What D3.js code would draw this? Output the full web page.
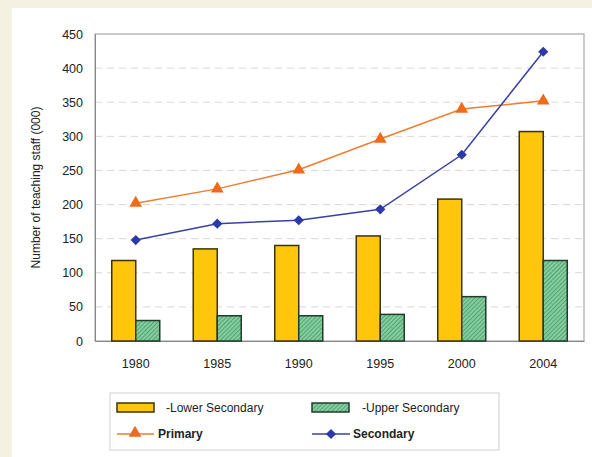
<!DOCTYPE html>
<html><head><meta charset="utf-8">
<script src="https://cdn.jsdelivr.net/npm/d3@7"></script>
<style>
html,body{margin:0;padding:0;background:#f4f1e3;}
svg{display:block;font-family:"Liberation Sans",Arial,sans-serif;}
</style></head>
<body>
<svg id="chart" width="592" height="457"></svg>
<script>
const years = ["1980","1985","1990","1995","2000","2004"];
const lowerSecondary = [118,135,140,154,208,307];
const upperSecondary = [30,37,37,39,65,118];
const primary = [202,223,251,296,340,352];
const secondary = [148,172,177,193,273,424];
const yTicks = [0,50,100,150,200,250,300,350,400,450];

const svg = d3.select("#chart");
svg.append("rect").attr("x",12).attr("y",8).attr("width",580).attr("height",449).attr("fill","#ffffff");

const defs = svg.append("defs");
const pat = defs.append("pattern").attr("id","hatch").attr("patternUnits","userSpaceOnUse")
  .attr("width",3).attr("height",3).attr("patternTransform","rotate(45)");
pat.append("rect").attr("width",3).attr("height",3).attr("fill","#86cc9f");
pat.append("line").attr("x1",0).attr("y1",0).attr("x2",0).attr("y2",3).attr("stroke","#3b9462").attr("stroke-width",1.4);

const L=95, R=584, T=34, B=341;
const x = d3.scaleBand().domain(years).range([L,R]);
const y = d3.scaleLinear().domain([0,450]).range([B,T]);

// gridlines
svg.append("g").selectAll("line").data(yTicks.filter(d=>d>0&&d<450)).join("line")
  .attr("x1",L).attr("x2",R).attr("y1",d=>y(d)).attr("y2",d=>y(d))
  .attr("stroke","#d8d8d8").attr("stroke-width",1).attr("stroke-dasharray","7,5");

// plot border
svg.append("rect").attr("x",L).attr("y",T).attr("width",R-L).attr("height",B-T)
  .attr("fill","none").attr("stroke","#a8a8a8").attr("stroke-width",1.2);

// y axis
const yAxis = d3.axisLeft(y).tickValues(yTicks).tickSize(0).tickPadding(12);
const yg = svg.append("g").attr("transform",`translate(${L},0)`).call(yAxis);
yg.select(".domain").attr("stroke","#888");
yg.selectAll("text").attr("font-size",12.5).attr("fill","#222");

// x axis
const xAxis = d3.axisBottom(x).tickSize(0).tickPadding(18);
const xg = svg.append("g").attr("transform",`translate(0,${B})`).call(xAxis);
xg.select(".domain").attr("stroke","#888");
xg.selectAll("text").attr("font-size",12.5).attr("fill","#222");

svg.append("text").attr("transform",`translate(40,${(T+B)/2}) rotate(-90)`)
  .attr("text-anchor","middle").attr("font-size",12).attr("fill","#222")
  .text("Number of teaching staff (000)");

const bw = 24;
const cx = d => x(d)+x.bandwidth()/2;
svg.append("g").selectAll("rect").data(years).join("rect")
  .attr("x",d=>cx(d)-bw).attr("width",bw)
  .attr("y",(d,i)=>y(lowerSecondary[i])).attr("height",(d,i)=>B-y(lowerSecondary[i]))
  .attr("fill","#ffc60b").attr("stroke","#3b3210").attr("stroke-width",1.5);
svg.append("g").selectAll("rect").data(years).join("rect")
  .attr("x",d=>cx(d)).attr("width",bw)
  .attr("y",(d,i)=>y(upperSecondary[i])).attr("height",(d,i)=>B-y(upperSecondary[i]))
  .attr("fill","url(#hatch)").attr("stroke","#1f3d2a").attr("stroke-width",1.5);

const line = d3.line().x((d,i)=>cx(years[i])).y(d=>y(d));
const pColor = "#f07d2e", sColor = "#3b40a0";
svg.append("path").datum(primary).attr("d",line).attr("fill","none").attr("stroke",pColor).attr("stroke-width",1.5);
svg.append("path").datum(secondary).attr("d",line).attr("fill","none").attr("stroke",sColor).attr("stroke-width",1.5);
const tri = d3.symbol().type(d3.symbolTriangle).size(70);
const dia = d3.symbol().type(d3.symbolSquare).size(52);
svg.append("g").selectAll("path").data(primary).join("path")
  .attr("transform",(d,i)=>`translate(${cx(years[i])},${y(d)})`).attr("d",tri).attr("fill","#ee6a1c");
svg.append("g").selectAll("path").data(secondary).join("path")
  .attr("transform",(d,i)=>`translate(${cx(years[i])},${y(d)}) rotate(45)`).attr("d",dia).attr("fill","#2a3aa8");

// legend
const lg = svg.append("g");
lg.append("rect").attr("x",110).attr("y",393).attr("width",389).attr("height",57)
  .attr("fill","#fff").attr("stroke","#cfcfcf").attr("stroke-width",1);
lg.append("rect").attr("x",117).attr("y",403).attr("width",37).attr("height",9)
  .attr("fill","#ffc60b").attr("stroke","#3b3210").attr("stroke-width",1.5);
lg.append("text").attr("x",166).attr("y",412).attr("font-size",12).attr("fill","#222").text("-Lower Secondary");
lg.append("rect").attr("x",312).attr("y",403).attr("width",37).attr("height",9)
  .attr("fill","url(#hatch)").attr("stroke","#1f3d2a").attr("stroke-width",1.5);
lg.append("text").attr("x",362).attr("y",412).attr("font-size",12).attr("fill","#222").text("-Upper Secondary");
lg.append("line").attr("x1",117).attr("x2",154).attr("y1",434).attr("y2",434).attr("stroke",pColor).attr("stroke-width",1.5);
lg.append("path").attr("transform","translate(135,433)").attr("d",tri).attr("fill","#ee6a1c");
lg.append("text").attr("x",158).attr("y",438).attr("font-size",12).attr("font-weight","bold").attr("fill","#222").text("Primary");
lg.append("line").attr("x1",312).attr("x2",350).attr("y1",434).attr("y2",434).attr("stroke",sColor).attr("stroke-width",1.5);
lg.append("path").attr("transform","translate(331,434) rotate(45)").attr("d",dia).attr("fill","#2a3aa8");
lg.append("text").attr("x",353).attr("y",438).attr("font-size",12).attr("font-weight","bold").attr("fill","#222").text("Secondary");
</script>
</body></html>
